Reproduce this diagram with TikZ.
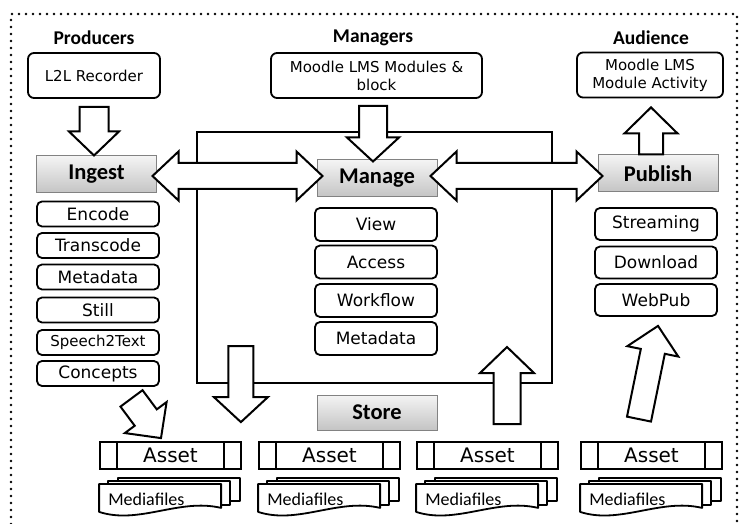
\documentclass[tikz,border=0pt]{standalone}
\usepackage{fontspec}
\setmainfont{DejaVu Sans}
\newfontfamily\calib{Carlito}
\usetikzlibrary{calc}

\definecolor{phasetop}{RGB}{244,244,244}
\definecolor{phasebot}{RGB}{196,196,196}
\definecolor{phaseline}{RGB}{130,130,130}

% block arrow: tail, tip, shaft half-width, head half-width, head length
\newcommand\blockarrow[5]{%
  \path ($(#2)!#5!(#1)$) coordinate (bah);
  \draw[barrow] ($(#1)!#3!90:(#2)$) -- ($(bah)!#3!90:(#2)$) -- ($(bah)!#4!90:(#2)$)
    -- (#2) -- ($(bah)!#4!-90:(#2)$) -- ($(bah)!#3!-90:(#2)$) -- ($(#1)!#3!-90:(#2)$) -- cycle;
}
% double-headed block arrow: tip, tip, shaft half-width, head half-width, head length
\newcommand\dblockarrow[5]{%
  \path ($(#1)!#5!(#2)$) coordinate (dba);
  \path ($(#2)!#5!(#1)$) coordinate (dbb);
  \draw[barrow] (#1) -- ($(dba)!#4!90:(#2)$) -- ($(dba)!#3!90:(#2)$)
    -- ($(dbb)!#3!-90:(#1)$) -- ($(dbb)!#4!-90:(#1)$) -- (#2)
    -- ($(dbb)!#4!90:(#1)$) -- ($(dbb)!#3!90:(#1)$)
    -- ($(dba)!#3!-90:(#2)$) -- ($(dba)!#4!-90:(#2)$) -- cycle;
}
% stack of media documents below an asset bar: text node name, asset node
\newcommand\mediastack[2]{%
  \begin{scope}[shift={(#2.south west)}]
    \draw[doc] (19,8) rectangle (141,31);
    \draw[doc] (9,11) rectangle (131,35);
    \draw[doc] (0,14) -- (122,14) -- (122,38) .. controls (80,28) and (40,55) .. (0,42) -- cycle;
    \node[mediatext] (#1) at (9,29) {Mediafiles};
  \end{scope}
}
% asset bar with its two side cells
\newcommand\assetbar[2]{%
  \node[assetbox] (#1) at (#2) {Asset};
  \draw[line width=1.8bp] ($(#1.north west)+(18,0)$) -- ($(#1.south west)+(18,0)$);
  \draw[line width=1.8bp] ($(#1.north east)+(-18,0)$) -- ($(#1.south east)+(-18,0)$);
}

\tikzset{
  barrow/.style={draw=black, fill=white, line width=2bp, line join=miter},
  title/.style={font=\calib\bfseries\fontsize{19.5bp}{22bp}\selectfont, inner sep=0},
  topbox/.style={draw=black, line width=1.8bp, rounded corners=6bp, fill=white,
    minimum height=45bp, inner sep=0, align=center,
    font=\fontsize{15bp}{18bp}\selectfont},
  phase/.style={draw=phaseline, line width=1bp, top color=phasetop, bottom color=phasebot,
    minimum width=120bp, minimum height=37bp, inner sep=0,
    font=\calib\bfseries\fontsize{22.5bp}{24bp}\selectfont},
  sub/.style={draw=black, line width=1.8bp, rounded corners=5bp, fill=white,
    minimum width=122bp, inner sep=0, font=\fontsize{17bp}{19bp}\selectfont},
  ingsub/.style={sub, minimum height=25bp},
  mansub/.style={sub, minimum height=33bp},
  pubsub/.style={sub, minimum height=32bp},
  assetbox/.style={draw=black, line width=1.8bp, fill=white, minimum width=141bp,
    minimum height=27bp, inner sep=0, font=\fontsize{20bp}{22bp}\selectfont},
  doc/.style={draw=black, line width=1.8bp, fill=white, line join=round},
  mediatext/.style={anchor=west, inner sep=0, font=\calib\fontsize{18bp}{20bp}\selectfont},
  mgmtframe/.style={draw=black, line width=2bp, minimum width=355bp, minimum height=251bp, inner sep=0},
  dotframe/.style={line width=2.6bp, dash pattern=on 0bp off 7bp, line cap=round}
}

\begin{document}
\begin{tikzpicture}[x=1bp, y=-1bp]
  \useasboundingbox (0,0) rectangle (739,524);

  % outer dotted border
  \draw[dotframe] (11,524) -- (11,14) -- (737,14) -- (737,524);

  % management area
  \node[mgmtframe] (mgmt) at (374.5,257.5) {};

  % roles
  \node[title] (tprod) at (94,38) {Producers};
  \node[title] (tman) at (373,38) {Managers};
  \node[title] (taud) at (651,38) {Audience};

  \node[topbox, minimum width=132bp] (l2l) at (94,75.5) {L2L Recorder};
  \node[topbox, minimum width=211bp] (moodle) at (376.5,75.5) {Moodle LMS Modules \&\\block};
  \node[topbox, minimum width=146bp] (aud) at (650,75) {Moodle LMS\\Module Activity};

  % phases
  \node[phase, minimum width=119bp] (ingest) at (96.5,174.5) {Ingest};
  \node[phase] (manage) at (377,178.5) {Manage};
  \node[phase] (publish) at (658,173.5) {Publish};
  \node[phase, minimum height=35bp] (store) at (377,412.5) {Store};

  % ingest tasks
  \node[ingsub] (encode) at (98,214) {Encode};
  \node[ingsub] (transcode) at (98,245.5) {Transcode};
  \node[ingsub] (imeta) at (98,277) {Metadata};
  \node[ingsub] (still) at (98,310) {Still};
  \node[ingsub, font=\fontsize{15bp}{17bp}\selectfont] (s2t) at (98,342.5) {Speech2Text};
  \node[ingsub] (concepts) at (98,373.5) {Concepts};

  % manage tasks
  \node[mansub] (view) at (376,224.5) {View};
  \node[mansub] (access) at (376,262) {Access};
  \node[mansub] (workflow) at (376,300.5) {Workflow};
  \node[mansub] (mmeta) at (376,338.5) {Metadata};

  % publish tasks
  \node[pubsub] (streaming) at (656,224) {Streaming};
  \node[pubsub] (download) at (656,262.5) {Download};
  \node[pubsub] (webpub) at (656,300) {WebPub};

  % storage
  \assetbar{asset1}{170.5,455.5}
  \assetbar{asset2}{329.5,455.5}
  \assetbar{asset3}{487.5,455.5}
  \assetbar{asset4}{651.5,455.5}
  \mediastack{media1}{asset1}
  \mediastack{media2}{asset2}
  \mediastack{media3}{asset3}
  \mediastack{media4}{asset4}

  % flows
  \coordinate (a1s) at ($(l2l.south)+(0,8)$);
  \blockarrow{a1s}{a1s |- ingest.north}{14.5bp}{25bp}{24bp}

  \coordinate (a2s) at ($(moodle.south)+(-3.5,7)$);
  \coordinate (a2e) at ($(a2s |- manage.north)+(0,2)$);
  \blockarrow{a2s}{a2e}{14bp}{26bp}{24bp}

  \coordinate (a3e) at ($(aud.south)+(1,9)$);
  \blockarrow{a3e |- publish.north}{a3e}{12bp}{26.5bp}{26bp}

  \coordinate (d1a) at ($(ingest.east)+(-4,1.5)$);
  \coordinate (d1b) at ($(d1a -| manage.west)+(6,0)$);
  \dblockarrow{d1a}{d1b}{13bp}{24.5bp}{26bp}

  \coordinate (d2a) at ($(d1a -| manage.east)+(-7,0)$);
  \coordinate (d2b) at ($(d1a -| publish.west)+(5,0)$);
  \dblockarrow{d2a}{d2b}{13bp}{24.5bp}{26bp}

  \coordinate (a6e) at ($(asset1.north east)+(-1,-19)$);
  \coordinate (a6s) at ($(a6e)+(0,-76)$);
  \blockarrow{a6s}{a6e}{12.5bp}{27bp}{25bp}

  \coordinate (a7e) at ($(mgmt.south east)+(-46,-37)$);
  \coordinate (a7s) at ($(a7e)+(0,77)$);
  \blockarrow{a7s}{a7e}{13.5bp}{27bp}{26bp}

  \coordinate (a8s) at ($(asset4.north)+(-12.5,-22)$);
  \coordinate (a8e) at ($(webpub.south)+(2,9)$);
  \blockarrow{a8s}{a8e}{12.25bp}{26bp}{26bp}

  \coordinate (a9s) at ($(concepts.south)+(33.5,11.5)$);
  \coordinate (a9e) at ($(asset1.north)+(-9.5,-3)$);
  \blockarrow{a9s}{a9e}{13.75bp}{26bp}{25.6bp}
\end{tikzpicture}
\end{document}
